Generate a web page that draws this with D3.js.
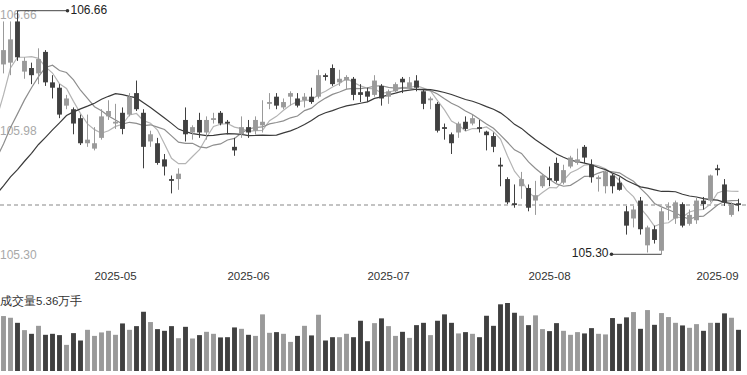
<!DOCTYPE html>
<html>
<head>
<meta charset="utf-8">
<script src="https://cdn.jsdelivr.net/npm/d3@7/dist/d3.min.js"></script>
<style>
  html, body { margin: 0; padding: 0; background: #fff; }
  svg { display: block; }
  text { font-family: "Liberation Sans", Arial, sans-serif; }
</style>
</head>
<body>
<svg id="chart" width="747" height="375"></svg>
<script>
// ---- Data ----
const opens = [106.36,106.37,106.60,106.32,106.34,106.31,106.43,106.26,106.23,106.13,
  106.11,106.06,105.92,105.89,105.95,106.07,106.03,106.09,106.08,106.20,
  106.09,105.93,105.92,105.83,105.72,105.72,106.05,105.98,106.05,105.98,
  106.05,106.09,106.04,105.90,105.97,106.01,105.99,106.02,106.14,106.18,
  106.12,106.18,106.17,106.16,106.18,106.18,106.30,106.34,106.26,106.27,
  106.28,106.205,106.21,106.19,106.24,106.18,106.21,106.28,106.23,106.27,
  106.21,106.16,106.14,106.01,105.97,105.98,106.04,106.03,106.01,105.985,
  105.96,105.80,105.72,105.585,105.68,105.67,105.60,105.68,105.725,105.81,
  105.70,105.79,105.81,105.90,105.80,105.72,105.68,105.74,105.70,105.54,
  105.50,105.60,105.35,105.44,105.32,105.56,105.50,105.58,105.47,105.49,
  105.60,105.60,105.78,105.69,105.52,105.585];
const highs = [106.60,106.60,106.66,106.40,106.37,106.45,106.44,106.30,106.25,106.19,
  106.12,106.08,106.08,106.01,106.11,106.16,106.14,106.12,106.20,106.27,
  106.11,105.99,105.95,105.86,105.74,105.78,106.12,106.02,106.09,106.07,
  106.09,106.10,106.05,105.95,106.07,106.05,106.07,106.16,106.20,106.20,
  106.17,106.21,106.20,106.20,106.23,106.33,106.31,106.36,106.33,106.30,
  106.29,106.25,106.23,106.30,106.25,106.22,106.26,106.29,106.29,106.30,
  106.22,106.18,106.15,106.03,105.98,106.04,106.07,106.08,106.05,105.99,
  105.98,105.84,105.73,105.69,105.76,105.69,105.71,105.75,105.79,105.84,
  105.80,105.85,105.89,105.91,105.83,105.74,105.77,105.75,105.73,105.57,
  105.57,105.62,105.46,105.46,105.56,105.59,105.60,105.59,105.55,105.62,
  105.62,105.745,105.80,105.72,105.59,105.61];
const lows = [106.31,106.30,106.38,106.28,106.25,106.25,106.24,106.17,106.06,106.11,
  105.97,105.91,105.90,105.88,105.94,106.05,106.00,105.97,106.07,106.10,
  105.78,105.90,105.80,105.74,105.64,105.66,105.93,105.94,105.95,105.94,
  106.03,106.02,105.97,105.85,105.95,105.95,105.97,105.98,106.11,106.11,
  106.11,106.13,106.12,106.12,106.14,106.17,106.27,106.24,106.24,106.22,
  106.16,106.15,106.15,106.18,106.13,106.14,106.20,106.20,106.22,106.21,
  106.11,106.11,105.98,105.94,105.86,105.95,105.99,106.02,105.98,105.88,
  105.87,105.68,105.58,105.56,105.61,105.54,105.52,105.67,105.68,105.70,
  105.69,105.78,105.80,105.81,105.70,105.65,105.64,105.64,105.655,105.41,
  105.45,105.41,105.31,105.36,105.30,105.49,105.47,105.45,105.46,105.47,
  105.55,105.59,105.74,105.57,105.51,105.54];
const closes = [106.44,106.50,106.40,106.38,106.30,106.39,106.26,106.23,106.08,106.17,
  106.03,105.92,105.94,105.92,106.07,106.10,106.04,106.00,106.18,106.11,
  105.90,105.97,105.81,105.79,105.71,105.75,105.97,106.01,105.98,106.05,
  106.06,106.03,106.03,105.88,106.01,105.98,106.05,106.04,106.15,106.13,
  106.15,106.20,106.13,106.18,106.15,106.30,106.29,106.25,106.28,106.29,
  106.19,106.19,106.18,106.27,106.17,106.21,106.25,106.26,106.26,106.23,
  106.14,106.17,105.99,106.00,105.92,106.03,106.00,106.06,106.00,105.965,
  105.90,105.79,105.59,105.575,105.72,105.56,105.63,105.74,105.715,105.71,
  105.77,105.84,105.83,105.84,105.73,105.73,105.76,105.68,105.66,105.46,
  105.55,105.44,105.45,105.38,105.54,105.57,105.59,105.46,105.52,105.60,
  105.58,105.74,105.77,105.59,105.58,105.575];
// volume, 万手
const volumes = [7.15,6.93,6.27,5.32,4.84,5.88,4.71,4.84,4.67,3.40,
  4.93,3.97,5.36,4.57,5.02,5.23,4.71,6.19,5.36,5.84,
  7.71,6.37,5.45,5.23,5.84,4.27,5.75,4.23,4.67,5.10,
  4.84,4.37,4.40,5.67,5.49,4.71,4.57,7.37,4.97,5.06,
  4.84,3.79,4.57,5.88,4.63,7.32,3.97,4.40,4.40,4.84,
  4.40,6.54,3.88,6.23,6.85,5.84,4.57,5.10,4.31,5.97,
  6.27,4.67,6.54,7.37,6.27,4.89,5.06,4.84,4.40,7.19,
  5.88,8.68,8.85,7.58,7.19,5.97,7.24,5.45,5.19,6.23,
  5.23,4.71,5.06,4.89,5.58,4.84,4.76,6.89,6.14,6.98,
  7.67,5.49,7.93,6.01,7.54,7.02,6.27,5.93,5.62,6.10,
  5.23,6.27,6.27,7.50,6.93,5.36];
// closes of the 20 sessions before the visible window (only used to warm up the moving averages)
const priorCloses = [105.52,105.50,105.58,105.45,105.42,105.40,105.46,105.40,105.30,105.34,
  105.63,105.58,105.64,105.60,105.62,105.77,105.75,106.10,106.38,106.28];
const maPeriods = [5, 10, 20];
const tickIndex = [16, 35, 55, 78, 102];
const tickLabels = ["2025-05", "2025-06", "2025-07", "2025-08", "2025-09"];
const volumeTitle = "成交量5.36万手";

// ---- Layout ----
const W = 747, H = 375;
const n = closes.length;
const svg = d3.select("#chart");

const x = d3.scaleLinear().domain([0, n - 1]).range([3.5, 738.5]);
const step = x(1) - x(0);
const bodyW = step * 0.7;

const pMax = d3.max(highs), pMin = d3.min(lows);
const y = d3.scaleLinear().domain([pMin, pMax]).range([254.3, 10.7]);
const yv = d3.scaleLinear().domain([0, d3.max(volumes)]).range([371, 303]);

const UP = "#9a9a9a", DOWN = "#404040";
const isUp = i => closes[i] >= opens[i];

// price labels (left, gray)
const fmt = d3.format(".2f");
const priceLabels = [
  {v: pMax, yy: 18.5},
  {v: (pMax + pMin) / 2, yy: 135},
  {v: pMin, yy: 259}
];
svg.append("g").selectAll("text").data(priceLabels).join("text")
  .attr("x", 0).attr("y", d => d.yy)
  .attr("fill", "#a8a8a8").attr("font-size", 12)
  .text(d => fmt(d.v));

// last close dashed line
svg.append("line")
  .attr("x1", 0).attr("x2", W)
  .attr("y1", y(closes[n - 1])).attr("y2", y(closes[n - 1]))
  .attr("stroke", "#b0b0b0").attr("stroke-width", 1.5)
  .attr("stroke-dasharray", "4,3");

// moving averages
const all = priorCloses.concat(closes);
const off = priorCloses.length;
function ma(p) {
  const out = [];
  for (let i = -1; i < n; i++) {
    const k = i + off;
    if (k - p + 1 < 0) continue;
    out.push({i, v: d3.mean(all.slice(k - p + 1, k + 1))});
  }
  return out;
}
const maColors = ["#b4b4b4", "#8e8e8e", "#3a3a3a"];
const line = d3.line().x(d => x(d.i)).y(d => y(d.v));
maPeriods.forEach((p, k) => {
  svg.append("path").datum(ma(p))
    .attr("d", line).attr("fill", "none")
    .attr("stroke", maColors[k]).attr("stroke-width", 1.2);
});

// candles
const cg = svg.append("g");
const idx = d3.range(n);
cg.selectAll("line.wick").data(idx).join("line")
  .attr("class", "wick")
  .attr("x1", i => x(i)).attr("x2", i => x(i))
  .attr("y1", i => y(highs[i])).attr("y2", i => y(lows[i]))
  .attr("stroke", i => isUp(i) ? UP : DOWN).attr("stroke-width", 1);
cg.selectAll("rect.body").data(idx).join("rect")
  .attr("class", "body")
  .attr("x", i => x(i) - bodyW / 2).attr("width", bodyW)
  .attr("y", i => y(Math.max(opens[i], closes[i])))
  .attr("height", i => Math.max(1, Math.abs(y(opens[i]) - y(closes[i]))))
  .attr("fill", i => isUp(i) ? UP : DOWN);

// high / low markers
const hiI = highs.indexOf(pMax), loI = lows.indexOf(pMin);
function marker(i, v, dir) {
  const x0 = x(i), x1 = x0 + dir * 50, yy = y(v);
  svg.append("line").attr("x1", x0).attr("x2", x1).attr("y1", yy).attr("y2", yy)
    .attr("stroke", "#444").attr("stroke-width", 1);
  svg.append("circle").attr("cx", x1).attr("cy", yy).attr("r", 1.8).attr("fill", "#333");
  svg.append("text").attr("x", x1 + dir * 3).attr("y", yy)
    .attr("dominant-baseline", "middle")
    .attr("text-anchor", dir > 0 ? "start" : "end")
    .attr("font-size", 12).attr("fill", "#222")
    .text(fmt(v));
}
marker(hiI, pMax, 1);
marker(loI, pMin, -1);

// month labels
svg.append("g").selectAll("text").data(tickIndex).join("text")
  .attr("x", i => x(i)).attr("y", 280)
  .attr("text-anchor", "middle").attr("font-size", 11.5).attr("fill", "#333")
  .text((d, k) => tickLabels[k]);

// volume title
svg.append("text").attr("x", 0).attr("y", 305)
  .attr("font-size", 11.5).attr("fill", "#333")
  .attr("font-family", "'Noto Sans CJK SC', sans-serif")
  .text(volumeTitle);

// volume bars
svg.append("g").selectAll("rect").data(idx).join("rect")
  .attr("x", i => x(i) - bodyW / 2).attr("width", bodyW)
  .attr("y", i => yv(volumes[i]))
  .attr("height", i => yv(0) - yv(volumes[i]))
  .attr("fill", i => isUp(i) ? UP : DOWN);
</script>
</body>
</html>
